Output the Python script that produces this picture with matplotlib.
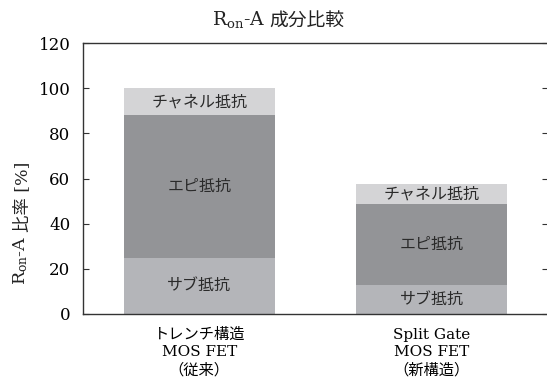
import matplotlib
matplotlib.use("Agg")
import matplotlib.pyplot as plt
import numpy as np

plt.rcParams['font.family'] = ['DejaVu Serif', 'Noto Sans CJK JP']
plt.rcParams['mathtext.fontset'] = 'custom'
plt.rcParams['mathtext.rm'] = 'DejaVu Serif'
plt.rcParams['mathtext.it'] = 'DejaVu Serif:italic'

categories = ['トレンチ構造\nMOS FET\n（従来）', 'Split Gate\nMOS FET\n（新構造）']
components = ['サブ抵抗', 'エピ抵抗', 'チャネル抵抗']
sub_vals = [25, 13]
epi_vals = [63, 35.5]
ch_vals = [12, 9]
colors = ['#b4b5b9', '#939497', '#d4d4d6']
yticks = [0, 20, 40, 60, 80, 100, 120]

fig = plt.figure(figsize=(5.47, 3.9), dpi=100)
ax = fig.add_axes([83 / 547, 76 / 390, 465 / 547, 271 / 390])

x = np.arange(len(categories))
series = [sub_vals, epi_vals, ch_vals]
bottom = np.zeros(len(categories))
for name, vals, c in zip(components, series, colors):
    vals = np.array(vals, dtype=float)
    ax.bar(x, vals, 0.65, bottom=bottom, color=c, edgecolor='none')
    for xi, b, v in zip(x, bottom, vals):
        ax.text(xi, b + v / 2, name, ha='center', va='center', fontsize=11.5,
                color='#2a2a2a')
    bottom += vals

ax.set_xlim(-0.5, 1.5)
ax.set_ylim(0, 120)
ax.set_yticks(yticks)
ax.set_xticks(x)
ax.set_xticklabels(categories, fontsize=11, linespacing=1.3)
ax.tick_params(axis='x', length=0, pad=10)
ax.tick_params(axis='y', direction='in', length=4, pad=9, labelsize=12,
               right=True, color='#333333')
ax.spines['right'].set_visible(False)
for s in ['left', 'top', 'bottom']:
    ax.spines[s].set_color('#333333')
    ax.spines[s].set_linewidth(1.0)

# title: R_on-A + Japanese
t1 = fig.text(0.485, 0.935, r'R$_{\rm on}$-A', ha='right', va='baseline',
              fontsize=13.5, color='#222222')
fig.canvas.draw()
ax.annotate('成分比較', xy=(1, 0), xycoords=t1, xytext=(3, 0),
            textcoords='offset points', ha='left', va='bottom',
            fontsize=13.5, color='#222222', annotation_clip=False)

# y label
y1 = fig.text(0.038, 0.27, r'R$_{\rm on}$-A', rotation=90, ha='center',
              va='bottom', fontsize=12.5, color='#222222')
fig.canvas.draw()
ax.annotate('比率 [%]', xy=(0.62, 1), xycoords=y1, xytext=(0, 2),
            textcoords='offset points', rotation=90, ha='center', va='bottom',
            fontsize=12.5, color='#222222', annotation_clip=False)

fig.savefig('out.png', dpi=100)
